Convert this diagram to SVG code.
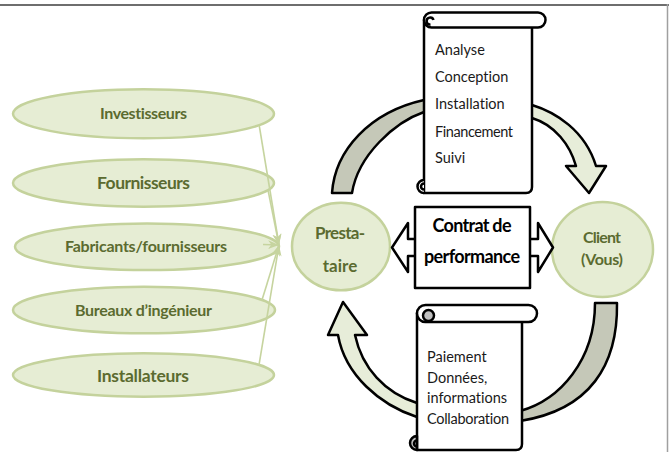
<svg xmlns="http://www.w3.org/2000/svg" width="669" height="452" viewBox="0 0 669 452">
<defs>
<style>
text{font-variant-ligatures:none;font-feature-settings:"liga" 0,"clig" 0,"dlig" 0}
.ell{fill:#e6edd4;stroke:#c4d29c;stroke-width:2.5}
.lbl{font-family:Lato,"Open Sans",sans-serif;font-weight:bold;fill:#5b6b30;text-anchor:middle}
.blk{stroke:#000;stroke-width:2.5;stroke-linejoin:round}
.grey{fill:#c5c8b8}
.pale{fill:#e7edd9}
.wht{fill:#fff}
.curl{fill:#bfbfbf}
.txt{font-family:Lato,"Open Sans",sans-serif;font-size:14.5px;fill:#1a1a1a}
.con{stroke:#c6d49f;stroke-width:1.6;fill:none}
</style>
<marker id="ah" viewBox="0 0 10 10" refX="10" refY="5" markerUnits="userSpaceOnUse" markerWidth="11" markerHeight="11" orient="auto">
<path d="M0,1 L10,5 L0,9 L3,5 Z" fill="#c6d49f"/>
</marker>
</defs>
<rect width="669" height="452" fill="#fff"/>
<g id="frame">
<line x1="0" y1="5" x2="669" y2="5" stroke="#6e6e6e" stroke-width="2"/>
<line x1="667.5" y1="4" x2="667.5" y2="452" stroke="#a0a0a0" stroke-width="1.5"/>
</g>
<g id="investisseurs"><ellipse class="ell" cx="143.5" cy="113.8" rx="130.5" ry="24.5"/><text class="lbl" x="143.5" y="118.5" font-size="16" textLength="87">Investisseurs</text></g>
<g id="fournisseurs"><ellipse class="ell" cx="143.5" cy="183" rx="130.5" ry="23.7"/><text class="lbl" x="143.5" y="188.5" font-size="17.5" textLength="93">Fournisseurs</text></g>
<g id="fabricants"><ellipse class="ell" cx="147" cy="246.7" rx="132" ry="23.3"/><text class="lbl" x="146" y="252" font-size="16" textLength="162">Fabricants/fournisseurs</text></g>
<g id="bureaux"><ellipse class="ell" cx="144" cy="310" rx="131" ry="23.3"/><text class="lbl" x="143.5" y="315.5" font-size="16" textLength="137">Bureaux d’ingénieur</text></g>
<g id="installateurs"><ellipse class="ell" cx="143.5" cy="375" rx="130.5" ry="21.7"/><text class="lbl" x="143" y="381.5" font-size="17.5" textLength="92">Installateurs</text></g>
<g id="connectors">
<line class="con" x1="259.3" y1="126" x2="279" y2="245" marker-end="url(#ah)"/>
<line class="con" x1="268" y1="190" x2="279" y2="245" marker-end="url(#ah)"/>
<line class="con" x1="263" y1="244.5" x2="279" y2="245" marker-end="url(#ah)"/>
<line class="con" x1="262" y1="300" x2="279" y2="245" marker-end="url(#ah)"/>
<line class="con" x1="259" y1="365" x2="279" y2="245" marker-end="url(#ah)"/>
</g>
<g id="prestataire"><ellipse class="ell" cx="341" cy="246.5" rx="49" ry="43.8"/><text class="lbl" x="340" y="239" font-size="17" textLength="50">Presta-</text><text class="lbl" x="340" y="272" font-size="17">taire</text></g>
<g id="client"><ellipse class="ell" cx="602.5" cy="249.5" rx="50.5" ry="47.5"/><text class="lbl" x="602" y="243" font-size="16" textLength="38">Client</text><text class="lbl" x="602" y="265" font-size="16" textLength="42">(Vous)</text></g>
<g id="cycle-arrows">
<path class="blk grey" d="M332,193 C335,150 370,112 424,100 L440,100 L440,112 L424,112 C395,122 358,155 352,193 Z"/>
<path class="blk pale" d="M520,105 L532,105 C555,112 585,130 596,166 L606,166 L589,193 L566,166 L576,166 C570,145 555,125 532,118 L520,118 Z"/>
<path class="blk grey" d="M617,303 C618,365 590,410 520,421 L510,421 L510,411 L520,411 C560,400 595,360 595,303 Z"/>
<path class="blk pale" d="M430,417 L417,417 C380,405 345,375 338,335 L328,335 L343,302 L367,335 L355,335 C362,368 385,393 417,403 L430,403 Z"/>
</g>
<g id="contrat">
<path class="blk wht" d="M392,247.5 L408,223 L408,239 L538,239 L538,223 L553,247.5 L538,272 L538,256 L408,256 L408,272 Z"/>
<rect class="blk wht" x="415" y="207" width="115" height="81"/>
<text class="lbl" x="472" y="232" font-size="18" style="fill:#000" textLength="79">Contrat de</text>
<text class="lbl" x="472" y="263" font-size="18" style="fill:#000" textLength="96">performance</text>
</g>
<g id="scroll-top">
<path class="blk wht" d="M424,20 V193 H526 Q532,193 532,187 V20 Z"/>
<rect class="blk wht" x="424" y="12.5" width="121.5" height="15" rx="7.5"/>
<path class="blk" fill="none" d="M430.5,24.5 A3.5 3.5 0 1 1 433.5,20"/>
<path class="blk wht" d="M424,180 A6.5 6.5 0 0 0 424,193"/>
<path class="blk" fill="none" d="M424,189.5 A3 3 0 0 1 424,183.5"/>
<text class="txt" x="435" y="55">Analyse</text>
<text class="txt" x="435" y="82">Conception</text>
<text class="txt" x="435" y="109">Installation</text>
<text class="txt" x="435" y="137" textLength="78">Financement</text>
<text class="txt" x="435" y="163">Suivi</text>
</g>
<g id="scroll-bottom">
<path class="blk wht" d="M417,313 V450 H516 Q522,450 522,444 V313 Z"/>
<rect class="blk wht" x="417" y="305" width="120" height="17" rx="8.5"/>
<circle class="blk curl" cx="428.5" cy="315.5" r="5.5"/>
<path class="blk curl" d="M417,436 A7 7 0 0 0 417,450 Z"/>
<path class="blk" fill="none" d="M417,446.5 A3 3 0 0 1 417,440.5"/>
<text class="txt" x="427" y="361.5">Paiement</text>
<text class="txt" x="427" y="382.5">Données,</text>
<text class="txt" x="427" y="403">informations</text>
<text class="txt" x="427" y="423.5" textLength="82">Collaboration</text>
</g>
</svg>
